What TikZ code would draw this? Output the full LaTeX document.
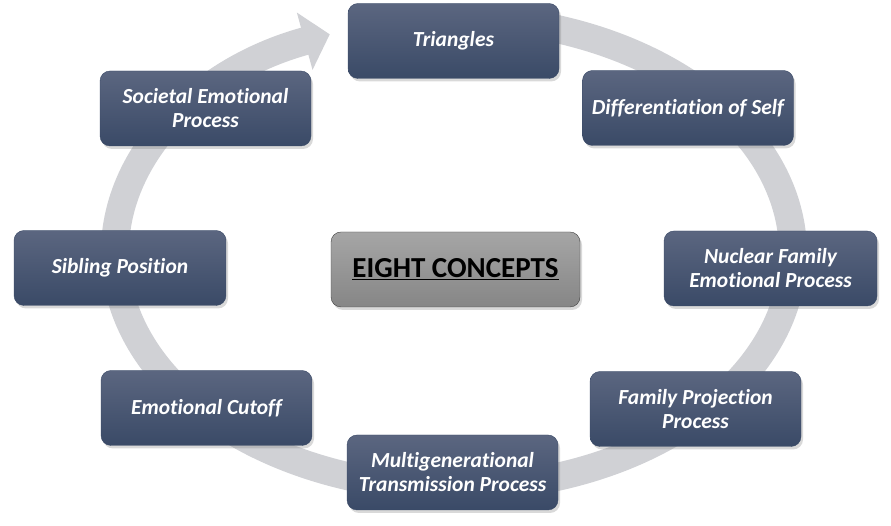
\documentclass[tikz,border=0pt]{standalone}
\usepackage{fontspec}
\setmainfont{Carlito}[Ligatures=NoCommon]
\usetikzlibrary{positioning, shadows, arrows.meta}

\definecolor{boxtop}{HTML}{5B6680}
\definecolor{boxbot}{HTML}{3A4A67}
\definecolor{ringgray}{HTML}{D0D1D5}

\begin{document}
\begin{tikzpicture}[
    x=1pt, y=1pt,
    ring/.style={
        draw=ringgray,
        line width=28pt,
        -{Triangle[length=26pt, width=58pt]}
    },
    concept/.style={
        rectangle,
        rounded corners=10pt,
        top color=boxtop,
        bottom color=boxbot,
        draw=boxbot,
        thin,
        minimum width=211pt,
        minimum height=75pt,
        align=center,
        text=white,
        font=\fontsize{21.5}{24}\selectfont\bfseries\itshape,
        drop shadow={opacity=0.3, shadow xshift=2pt, shadow yshift=-3pt}
    },
    hub/.style={
        concept,
        top color=gray!70,
        bottom color=gray!95,
        draw=black!75,
        minimum width=249pt,
        text=black,
        font=\fontsize{29}{32}\selectfont\bfseries
    }
]
    \useasboundingbox (0,0) rectangle (891,526);

    % Ring
    \draw[ring] ([shift={(100:339 and 235)}]454,273)
        arc[start angle=100, end angle=-248.5, x radius=339, y radius=235];

    % Center
    \node[hub] (eight) at (455.5,256.5) {\underline{EIGHT CONCEPTS}};

    % Concepts
    \node[concept] (tri) at (453.5,485) {Triangles};
    \node[concept] (diff) at (688,418) {Differentiation of Self};
    \node[concept, minimum width=213pt] (nuclear) at (770.5,257.5) {Nuclear Family\\Emotional Process};
    \node[concept] (proj) at (695.5,117) {Family Projection\\Process};
    \node[concept] (multi) at (452.5,53.5) {Multigenerational\\Transmission Process};
    \node[concept] (cutoff) at (206.5,118) {Emotional Cutoff};
    \node[concept, minimum width=212pt] (sibling) at (120,258) {Sibling Position};
    \node[concept] (societal) at (205.5,417.5) {Societal Emotional\\Process};

\end{tikzpicture}
\end{document}
